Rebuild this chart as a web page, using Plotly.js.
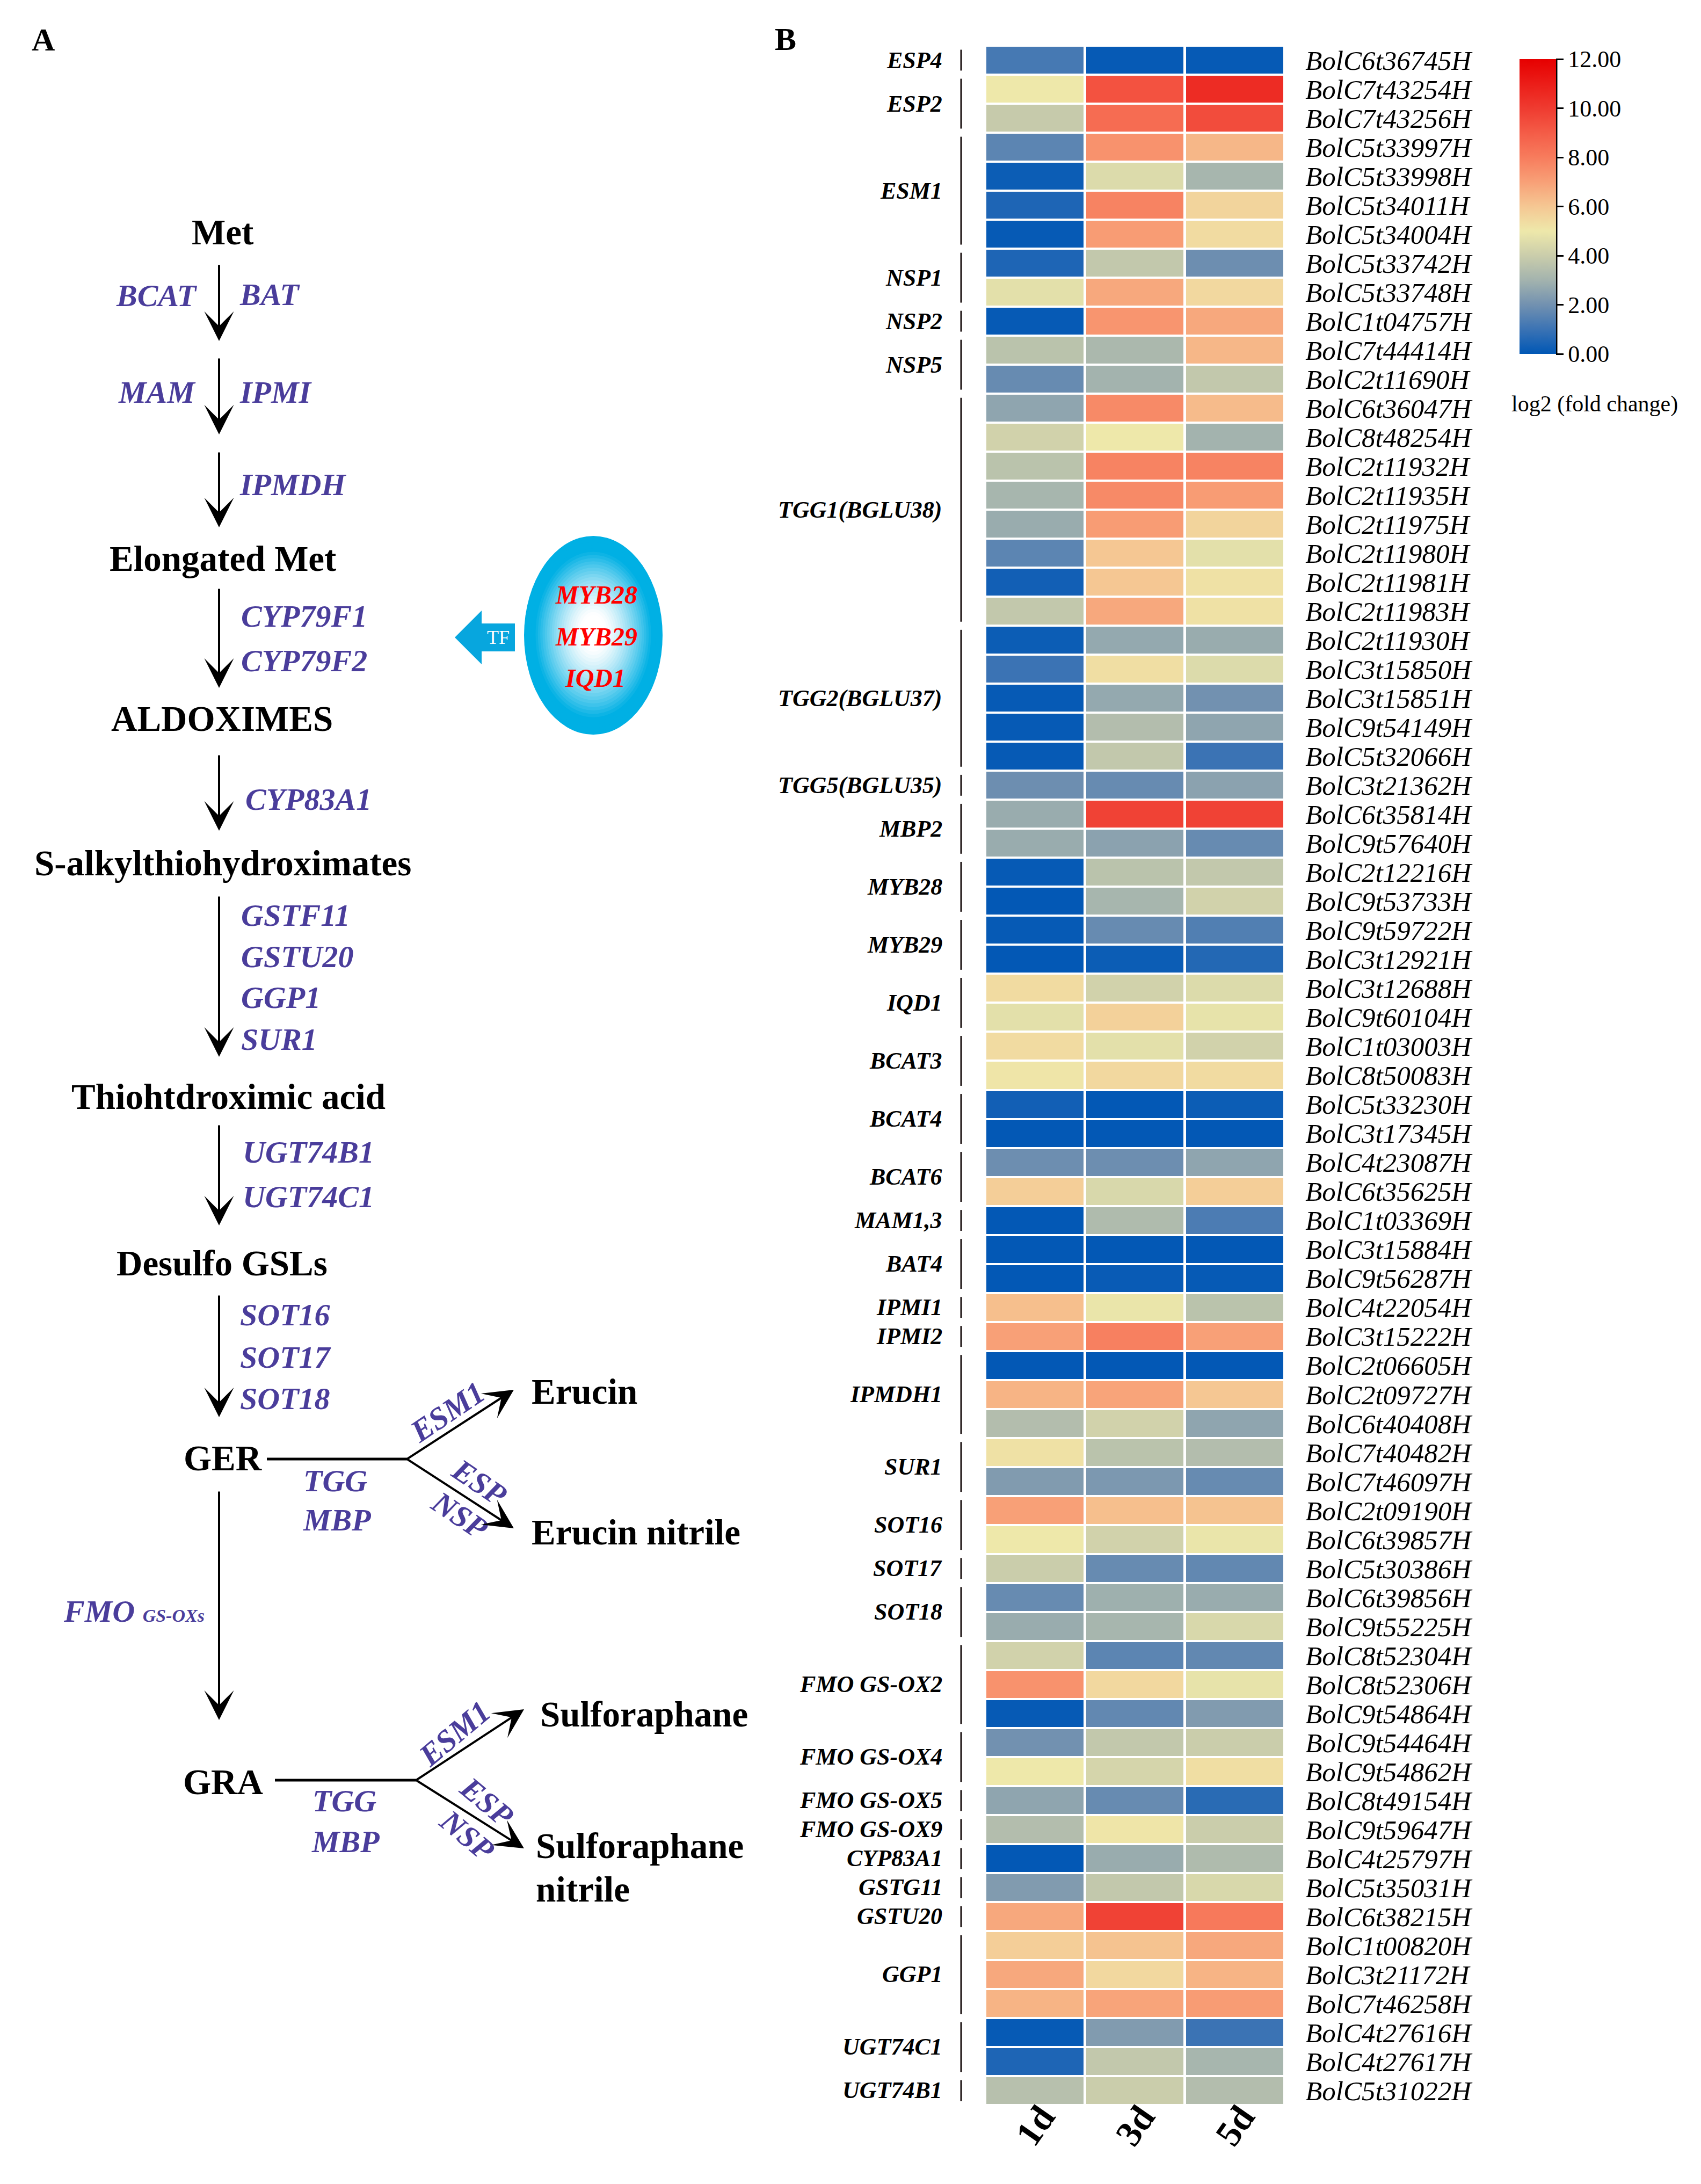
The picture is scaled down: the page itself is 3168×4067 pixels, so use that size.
<!DOCTYPE html>
<html><head><meta charset="utf-8">
<script src="https://cdn.plot.ly/plotly-3.0.1.min.js"></script>
<style>html,body{margin:0;padding:0;background:#fff}</style>
</head><body>
<div id="chart" style="width:3168px;height:4067px"></div>
<script>
// ---------------- DATA ----------------
const timepoints = ['1d', '3d', '5d'];
const genes = ['BolC6t36745H','BolC7t43254H','BolC7t43256H','BolC5t33997H','BolC5t33998H','BolC5t34011H','BolC5t34004H',
 'BolC5t33742H','BolC5t33748H','BolC1t04757H','BolC7t44414H','BolC2t11690H','BolC6t36047H','BolC8t48254H','BolC2t11932H',
 'BolC2t11935H','BolC2t11975H','BolC2t11980H','BolC2t11981H','BolC2t11983H','BolC2t11930H','BolC3t15850H','BolC3t15851H',
 'BolC9t54149H','BolC5t32066H','BolC3t21362H','BolC6t35814H','BolC9t57640H','BolC2t12216H','BolC9t53733H','BolC9t59722H',
 'BolC3t12921H','BolC3t12688H','BolC9t60104H','BolC1t03003H','BolC8t50083H','BolC5t33230H','BolC3t17345H','BolC4t23087H',
 'BolC6t35625H','BolC1t03369H','BolC3t15884H','BolC9t56287H','BolC4t22054H','BolC3t15222H','BolC2t06605H','BolC2t09727H',
 'BolC6t40408H','BolC7t40482H','BolC7t46097H','BolC2t09190H','BolC6t39857H','BolC5t30386H','BolC6t39856H','BolC9t55225H',
 'BolC8t52304H','BolC8t52306H','BolC9t54864H','BolC9t54464H','BolC9t54862H','BolC8t49154H','BolC9t59647H','BolC4t25797H',
 'BolC5t35031H','BolC6t38215H','BolC1t00820H','BolC3t21172H','BolC7t46258H','BolC4t27616H','BolC4t27617H','BolC5t31022H'];
const day1 = [1.2,5.0,3.9,1.6,0.2,0.5,0.1,0.5,4.7,0.1,3.6,1.8,2.6,4.2,3.6,3.1,2.8,1.6,0.3,3.8,
 0.2,1.0,0.1,0.1,0.1,1.9,2.8,2.8,0.1,0.05,0.1,0.05,5.4,4.7,5.4,5.1,0.3,0.05,1.9,5.8,
 0.05,0.05,0.05,6.2,7.0,0.05,6.5,3.4,5.2,2.3,7.0,5.0,4.0,1.8,2.8,4.2,7.4,0.1,2.0,5.0,
 2.6,3.4,0.05,2.3,6.8,5.8,6.8,6.5,0.1,0.5,3.5];
const day3 = [0.1,9.3,8.5,7.4,4.5,7.8,7.1,3.8,6.8,7.3,3.2,3.0,7.6,5.0,7.8,7.6,7.1,6.0,6.0,6.8,
 2.7,5.3,2.7,3.4,3.8,1.8,9.8,2.5,3.6,3.1,1.8,0.2,4.2,5.7,4.7,5.5,0.05,0.05,1.9,4.4,
 3.3,0.05,0.15,4.9,7.9,0.05,6.9,4.2,3.6,2.2,6.2,4.2,1.8,2.9,3.1,1.6,5.5,1.7,3.8,4.3,
 1.8,5.1,2.8,3.8,9.8,6.1,5.5,6.9,2.3,3.8,4.0];
const day5 = [0.1,10.5,9.5,6.4,3.1,5.6,5.4,1.9,5.5,6.8,6.4,3.8,6.3,3.0,7.8,7.1,5.6,4.7,5.2,5.2,
 2.8,4.5,2.0,2.6,1.0,2.5,9.8,1.8,3.8,4.2,1.4,0.6,4.5,4.8,4.2,5.4,0.2,0.05,2.6,5.8,
 1.3,0.05,0.1,3.6,7.0,0.05,6.0,2.6,3.4,1.8,6.1,4.9,1.7,2.8,4.4,1.7,4.8,2.3,4.0,5.3,
 0.7,4.0,3.3,4.4,8.1,6.8,6.5,7.1,1.0,3.1,3.4];
const groupNames = ['ESP4','ESP2','ESM1','NSP1','NSP2','NSP5','TGG1(BGLU38)','TGG2(BGLU37)','TGG5(BGLU35)','MBP2',
 'MYB28','MYB29','IQD1','BCAT3','BCAT4','BCAT6','MAM1,3','BAT4','IPMI1','IPMI2','IPMDH1','SUR1','SOT16','SOT17','SOT18',
 'FMO GS-OX2','FMO GS-OX4','FMO GS-OX5','FMO GS-OX9','CYP83A1','GSTG11','GSTU20','GGP1','UGT74C1','UGT74B1'];
const groupSizes = [1,2,4,2,1,2,8,5,1,2,2,2,2,2,2,2,1,2,1,1,3,2,2,1,2,3,2,1,1,1,1,1,3,2,1];
const colorTickVals = [0,2,4,6,8,10,12];

// ---------------- STYLE / LAYOUT CONSTANTS ----------------
const W = 3168, H = 4067;
const SERIF = 'Liberation Serif, Times New Roman, serif';
const PURPLE = '#4a3d9b';
const hmLeft = 1835, hmRight = 2393, hmTop = 85, hmBottom = 3920;
const colorscale = [
 [0/12,'#0057b5'],[1/12,'#3b73b4'],[2/12,'#7291b0'],[3/12,'#a3b3ae'],[4/12,'#cacdab'],
 [5/12,'#eee8aa'],[6/12,'#f5c793'],[7/12,'#f8a077'],[8/12,'#f77c5d'],[9/12,'#f45c47'],
 [10/12,'#ef3b30'],[11/12,'#eb1d18'],[12/12,'#e60000']];

const z = genes.map((g,i) => [day1[i], day3[i], day5[i]]);
const rowIdx = genes.map((g,i) => i);

const traces = [
 {type:'scatter', x:[], y:[], xaxis:'x2', yaxis:'y2', hoverinfo:'skip', showlegend:false},
 {type:'heatmap', x:[0,1,2], y:rowIdx, z:z, zmin:0, zmax:12, colorscale:colorscale,
  xgap:5, ygap:4, hoverinfo:'skip', xaxis:'x', yaxis:'y',
  colorbar:{x:2830/W, xanchor:'left', xpad:0, y:1-110/H, yanchor:'top', ypad:0,
   len:549/H, lenmode:'fraction', thickness:68, thicknessmode:'pixels', outlinewidth:0,
   tickvals:colorTickVals, ticktext:colorTickVals.map(v=>v.toFixed(2)), ticks:'outside', ticklen:14,
   tickwidth:3, tickcolor:'#000', tickfont:{family:SERIF, size:44, color:'#000'}}}
];

const shapes = [];
const annotations = [];

// colorbar spine + title
shapes.push({type:'line', xref:'x2', yref:'y2', x0:2899, x1:2899, y0:110, y1:659, line:{color:'#000', width:3}});
annotations.push({xref:'x2', yref:'y2', x:2970, y:752, text:'log2 (fold change)', showarrow:false,
 font:{family:SERIF, size:42, color:'#000'}});

// group labels and brackets
let start = 0;
groupNames.forEach((name,k) => {
  const end = start + groupSizes[k] - 1;
  annotations.push({xref:'paper', yref:'y', x:1757/W, y:(start+end)/2, xanchor:'right', yanchor:'middle',
    text:'<b><i>'+name+'</i></b>', showarrow:false, font:{family:SERIF, size:44, color:'#000'}});
  shapes.push({type:'line', xref:'paper', yref:'y', x0:1790/W, x1:1790/W, y0:start-0.36, y1:end+0.36,
    line:{color:'#1a1010', width:3}});
  start = end + 1;
});

// column labels
timepoints.forEach((t,i) => {
  annotations.push({xref:'x', yref:'paper', x:i, y:1-4012/H, text:'<b>'+t+'</b>', textangle:-55,
    showarrow:false, font:{family:SERIF, size:68, color:'#000'}});
});

// panel letters
annotations.push({xref:'x2', yref:'y2', x:80, y:74, text:'<b>A</b>', showarrow:false, font:{family:SERIF, size:60, color:'#000'}});
annotations.push({xref:'x2', yref:'y2', x:1463, y:73, text:'<b>B</b>', showarrow:false, font:{family:SERIF, size:60, color:'#000'}});

// ---------------- PATHWAY DIAGRAM (panel A) ----------------
const compounds = [
 ['Met',415,432,'center'],['Elongated Met',415,1040,'center'],['ALDOXIMES',413,1338,'center'],
 ['S-alkylthiohydroximates',415,1607,'center'],['Thiohtdroximic acid',425,2042,'center'],
 ['Desulfo GSLs',413,2352,'center'],['GER',415,2715,'center'],['GRA',415,3318,'center'],
 ['Erucin',988,2591,'left'],['Erucin nitrile',988,2853,'left'],['Sulforaphane',1004,3192,'left'],
 ['Sulforaphane',996,3437,'left'],['nitrile',996,3518,'left']];
compounds.forEach(c => annotations.push({xref:'x2', yref:'y2', x:c[1], y:c[2], xanchor:c[3], yanchor:'middle',
  text:'<b>'+c[0]+'</b>', showarrow:false, font:{family:SERIF, size:67, color:'#000'}}));

const enzymes = [
 ['BCAT',370,550,'right',0],['BAT',444,548,'left',0],['MAM',367,730,'right',0],['IPMI',444,730,'left',0],
 ['IPMDH',444,902,'left',0],['CYP79F1',447,1147,'left',0],['CYP79F2',447,1230,'left',0],['CYP83A1',455,1488,'left',0],
 ['GSTF11',447,1704,'left',0],['GSTU20',447,1781,'left',0],['GGP1',447,1857,'left',0],['SUR1',447,1935,'left',0],
 ['UGT74B1',450,2145,'left',0],['UGT74C1',450,2228,'left',0],['SOT16',445,2448,'left',0],['SOT17',445,2527,'left',0],
 ['SOT18',445,2604,'left',0],['TGG',624,2757,'center',0],['MBP',627,2830,'center',0],
 ['ESM1',833,2629,'center',-34],['ESP',893,2760,'center',34],['NSP',856,2821,'center',34],
 ['TGG',641,3353,'center',0],['MBP',643,3429,'center',0],
 ['ESM1',846,3228,'center',-40],['ESP',907,3355,'center',40],['NSP',870,3417,'center',40]];
enzymes.forEach(e => annotations.push({xref:'x2', yref:'y2', x:e[1], y:e[2], xanchor:e[3], yanchor:'middle',
  textangle:e[4], text:'<b><i>'+e[0]+'</i></b>', showarrow:false, font:{family:SERIF, size:58, color:PURPLE}}));
annotations.push({xref:'x2', yref:'y2', x:116, y:3000, xanchor:'left', yanchor:'middle', showarrow:false,
  text:'<b><i>FMO </i></b><b><i><span style="font-size:34px">GS-OXs</span></i></b>',
  font:{family:SERIF, size:58, color:PURPLE}});

// arrows (tail -> tip)
const arrows = [
 [408,492,408,635],[408,666,408,809],[408,841,408,982],[408,1095,408,1281],[408,1405,408,1547],
 [408,1668,408,1968],[408,2094,408,2282],[408,2411,408,2639],[408,2776,408,3203],
 [758,2717,957,2588],[758,2717,957,2846],[775,3315,976,3183],[775,3315,976,3442]];
arrows.forEach(a => annotations.push({xref:'x2', yref:'y2', axref:'x2', ayref:'y2', ax:a[0], ay:a[1], x:a[2], y:a[3],
  text:'', showarrow:true, arrowhead:3, arrowsize:2.3, arrowwidth:4, arrowcolor:'#000'}));
// branch connectors
shapes.push({type:'line', xref:'x2', yref:'y2', x0:497, x1:760, y0:2717, y1:2717, line:{color:'#000', width:5}});
shapes.push({type:'line', xref:'x2', yref:'y2', x0:512, x1:777, y0:3315, y1:3315, line:{color:'#000', width:5}});

// TF ellipse with radial gradient (layered ellipses)
const ecx = 1105, ecy = 1183, erx = 129, ery = 185;
const outerC = [0,176,228], innerC = [255,255,255];
const NL = 30;
for (let k = 0; k < NL; k++) {
  const f = 1 - k/NL;
  let g = Math.min(1, Math.max(0, (f-0.18)/0.68));
  g = Math.pow(g, 1.35);
  const col = outerC.map((c,j) => Math.round(innerC[j] + (c-innerC[j])*g));
  shapes.push({type:'circle', xref:'x2', yref:'y2', x0:ecx-erx*f, x1:ecx+erx*f, y0:ecy-ery*f-(1-f)*8, y1:ecy+ery*f-(1-f)*8,
    fillcolor:'rgb('+col.join(',')+')', line:{width:0}});
}
// TF block arrow
shapes.push({type:'path', xref:'x2', yref:'y2', fillcolor:'#07a6de', line:{width:0},
  path:'M959,1161 L897,1161 L897,1137 L847,1187 L897,1237 L897,1213 L959,1213 Z'});
annotations.push({xref:'x2', yref:'y2', x:928, y:1187, text:'TF', showarrow:false, font:{family:SERIF, size:36, color:'#fff'}});
[['MYB28',1110,1107],['MYB29',1110,1185],['IQD1',1108,1262]].forEach(m => annotations.push({xref:'x2', yref:'y2',
  x:m[1], y:m[2], text:'<b><i>'+m[0]+'</i></b>', showarrow:false, font:{family:SERIF, size:48, color:'#ff0000'}}));

const layout = {
  width:W, height:H, margin:{l:0,r:0,t:0,b:0}, paper_bgcolor:'#fff', plot_bgcolor:'rgba(0,0,0,0)',
  font:{family:SERIF, color:'#000'}, showlegend:false,
  xaxis:{domain:[hmLeft/W, hmRight/W], range:[-0.5,2.5], showgrid:false, zeroline:false, showticklabels:false,
    ticks:'', showline:false, fixedrange:true, anchor:'y'},
  yaxis:{domain:[1-hmBottom/H, 1-hmTop/H], range:[genes.length-0.5,-0.5], side:'right', showgrid:false, zeroline:false,
    tickmode:'array', tickvals:rowIdx, ticktext:genes, ticks:'outside', ticklen:27, tickcolor:'rgba(0,0,0,0)',
    tickfont:{family:SERIF, size:51, color:'#000', style:'italic'}, showline:false, fixedrange:true, anchor:'x'},
  xaxis2:{domain:[0,1], range:[0,W], visible:false, anchor:'y2', fixedrange:true},
  yaxis2:{domain:[0,1], range:[H,0], visible:false, anchor:'x2', fixedrange:true},
  shapes:shapes, annotations:annotations
};
Plotly.newPlot('chart', traces, layout, {staticPlot:true, displayModeBar:false});
</script>
</body></html>
